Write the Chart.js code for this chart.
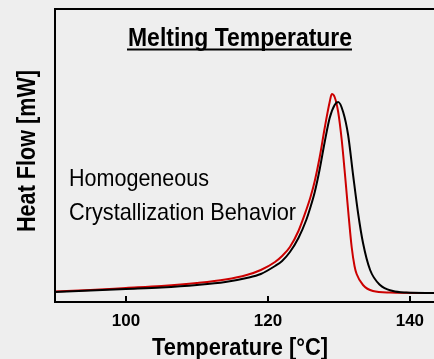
<!DOCTYPE html>
<html>
<head>
<meta charset="utf-8">
<script src="https://cdn.jsdelivr.net/npm/chart.js@4/dist/chart.umd.min.js"></script>
<style>
html,body{margin:0;padding:0;background:#eeeeee;}
#wrap{width:434px;height:359px;}
</style>
</head>
<body>
<div id="wrap"><canvas id="c" width="434" height="359"></canvas></div>
<script>
// DSC melting curves, heat flow in arbitrary units
const tempBlack=[90,95,100,105,110,114,117,119,121,122,123.1,124.3,125.4,126,126.6,127.3,128,128.7,129.4,129.9,130.6,131.3,132,132.7,133.4,134.4,135.8,137.6,139.5,143.4];
const heatBlack=[10,11.5,13,14.5,17,20,24,28,36,41,50,64,82,95,110,133,160,184,197,200,190,167,127,89,59,32,17,11,9.5,9];
const tempRed=[90,95,100,105,110,114,117,119,121,122,123.1,124.3,125.4,126,126.6,127.3,128,128.7,129,129.4,129.9,130.4,130.8,131.1,131.4,131.8,132.2,132.5,133.4,134.8,137.2,143.4];
const heatRed=[10.5,12,14,16,19,22.5,27,32,40,46,55,71,92,105,121,145,174,200,208,205,190,162,132,108,84,55,36,28,17,11,9.5,9];
const xTicks=[100,120,140];

const toPts=(xs,ys)=>xs.map((x,i)=>({x,y:ys[i]}));

function fitText(ctx,text,x,y,font,w,rot,align){
  ctx.save();
  ctx.font=font;
  ctx.textBaseline='alphabetic';
  ctx.textAlign=align||'center';
  const nat=ctx.measureText(text).width;
  ctx.translate(x,y);
  if(rot)ctx.rotate(rot);
  ctx.scale(w/nat,1);
  ctx.fillText(text,0,0);
  ctx.restore();
}

const frame={
  id:'frame',
  beforeDraw(ch){
    const c=ch.ctx;
    c.save();c.fillStyle='#eeeeee';c.fillRect(0,0,ch.width,ch.height);c.restore();
  },
  afterDraw(ch){
    const c=ch.ctx,a=ch.chartArea,xs=ch.scales.x;
    c.save();
    c.strokeStyle='#000';c.lineWidth=2;
    c.beginPath();
    c.moveTo(a.right,a.top);c.lineTo(a.left,a.top);c.lineTo(a.left,a.bottom);c.lineTo(a.right,a.bottom);
    c.stroke();
    // inner ticks
    xTicks.forEach(v=>{
      const px=Math.round(xs.getPixelForValue(v));
      c.beginPath();c.moveTo(px,a.bottom);c.lineTo(px,a.bottom-6);c.stroke();
    });
    c.fillStyle='#000';
    fitText(c,'Melting Temperature',240,46,'bold 26px "Liberation Sans", Arial, sans-serif',224);
    c.lineWidth=2;
    c.beginPath();c.moveTo(127,49.5);c.lineTo(352,49.5);c.stroke();
    fitText(c,'Homogeneous',69,186,'24px "Liberation Sans", Arial, sans-serif',140,0,'left');
    fitText(c,'Crystallization Behavior',69,220,'24px "Liberation Sans", Arial, sans-serif',227,0,'left');
    fitText(c,'Temperature [°C]',240,355,'bold 24px "Liberation Sans", Arial, sans-serif',176);
    fitText(c,'Heat Flow [mW]',35,151,'bold 26px "Liberation Sans", Arial, sans-serif',162,-Math.PI/2);
    c.restore();
  }
};

new Chart(document.getElementById('c'),{
  type:'scatter',
  data:{datasets:[
    {label:'Black',data:toPts(tempBlack,heatBlack),showLine:true,borderColor:'#000000',borderWidth:2,pointRadius:0,cubicInterpolationMode:'monotone'},
    {label:'Red',data:toPts(tempRed,heatRed),showLine:true,borderColor:'#cc0000',borderWidth:2,pointRadius:0,cubicInterpolationMode:'monotone'}
  ]},
  options:{
    responsive:false,animation:false,
    layout:{padding:{left:55,top:9,right:0,bottom:0}},
    plugins:{legend:{display:false},tooltip:{enabled:false}},
    scales:{
      x:{type:'linear',min:90,max:143.4,
        afterFit(s){s.height=57;},
        afterBuildTicks(s){s.ticks=xTicks.map(v=>({value:v}));},
        grid:{display:false,drawTicks:false},border:{display:false},
        ticks:{padding:9,color:'#000',font:{family:'"Liberation Sans", Arial, sans-serif',size:17,weight:'bold'}}},
      y:{display:false,min:0,max:293}
    }
  },
  plugins:[frame]
});
</script>
</body>
</html>
